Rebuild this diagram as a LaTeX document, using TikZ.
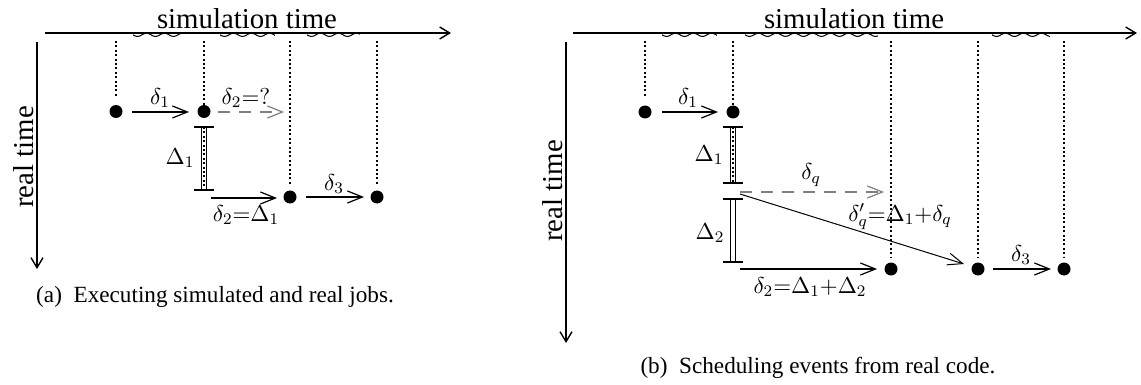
\documentclass[tikz,border=0pt]{standalone}
\usepackage{fix-cm}
\usepackage[no-math]{fontspec}
\setmainfont{Liberation Serif}
\usetikzlibrary{arrows.meta}
\tikzset{
  timeaxis/.style={line width=1.1pt,-{Straight Barb[length=5pt,width=6pt,line width=0.7pt]}},
  evdot/.style={circle,fill,inner sep=0pt,minimum size=6.5pt},
  guide/.style={line width=1pt,dash pattern=on 1pt off 1.2pt},
  jump/.style={line width=1pt,-{Straight Barb[length=7.5pt,width=6pt,line width=0.6pt]}},
  pending/.style={jump,gray,dash pattern=on 6pt off 4.5pt},
  thinjump/.style={line width=0.5pt,-{Straight Barb[length=7.5pt,width=6pt,line width=0.5pt]}},
  wavy/.style={line width=0.5pt},
  durbar/.style={line width=0.7pt,double distance=2pt},
  barend/.style={line width=0.8pt},
  lbl/.style={font=\fontsize{11.5}{13}\selectfont,inner sep=0pt},
  axtitle/.style={font=\fontsize{14.4}{17}\selectfont,inner sep=0pt},
  capt/.style={font=\fontsize{11.6}{14}\selectfont,inner sep=0pt},
}
\begin{document}
\begin{tikzpicture}[x=0.5pt,y=-0.5pt]
\path[use as bounding box,fill=white] (0,0) rectangle (1141,385);

% ================= LEFT PANEL =================
\coordinate (LaxA) at (45,33);   \coordinate (LaxB) at (451,33);
\coordinate (LvA) at (37,42);    \coordinate (LvB) at (37,269);
\draw[timeaxis] (LaxA) -- (LaxB);
\draw[timeaxis,line width=1.3pt] (LvA) -- (LvB);
\node[axtitle] (Ltitle) at (247,18.5) {simulation time};
\node[axtitle,rotate=90] (Lreal) at (24,157) {real time};

% waves on the simulation axis (projections of the jumps)
\foreach \s/\e in {133/183,220/275,307/360}
  \draw[wavy] plot[domain=\s:\e,samples=60,smooth] (\x,{34.8+1.6*sin((\x-\s)*20)});

% events
\node[evdot] (a1) at (116,111.5) {};
\node[evdot] (a2) at (204,111.5) {};
\node[evdot] (a3) at (290,197) {};
\node[evdot] (a4) at (377,197) {};

% guides
\coordinate (Lg1t) at (116,41); \coordinate (Lg1b) at (116,98);
\coordinate (Lg2t) at (204,41);
\coordinate (Lg3t) at (290,41); \coordinate (Lg3b) at (290,184);
\coordinate (Lg4t) at (377,41); \coordinate (Lg4b) at (377,184);
\draw[guide] (Lg1t) -- (Lg1b);
\draw[guide] (Lg2t) -- (a2.center);
\draw[guide] (Lg3t) -- (Lg3b);
\draw[guide] (Lg4t) -- (Lg4b);

% Delta_1 bar
\coordinate (LD1t) at (204,127); \coordinate (LD1b) at (204,190);
\draw[durbar] (LD1t) -- (LD1b);
\draw[guide] (LD1t) -- (LD1b);
\draw[barend] ([xshift=-5pt]LD1t) -- ([xshift=5pt]LD1t);
\draw[barend] ([xshift=-5pt]LD1b) -- ([xshift=5pt]LD1b);
\node[lbl] (LD1l) at (180,158) {$\Delta_1$};

% arrows
\coordinate (Ld1s) at (132,112); \coordinate (Ld1e) at (189,112);
\draw[jump] (Ld1s) -- (Ld1e);
\node[lbl] (Ld1l) at (160,98) {$\delta_1$};
\coordinate (Lqs) at (218,112); \coordinate (Lqe) at (284,112);
\draw[pending] (Lqs) -- (Lqe);
\node[lbl] (Lql) at (246,98) {$\delta_2{=}?$};
\coordinate (Ld2s) at (211,198); \coordinate (Ld2e) at (277,198);
\draw[jump] (Ld2s) -- (Ld2e);
\node[lbl] (Ld2l) at (246,215) {$\delta_2{=}\Delta_1$};
\coordinate (Ld3s) at (306,197); \coordinate (Ld3e) at (364,197);
\draw[jump] (Ld3s) -- (Ld3e);
\node[lbl] (Ld3l) at (334,184) {$\delta_3$};

\node[capt] (Lcap) at (215,297) {(a)\enspace Executing simulated and real jobs.};

% ================= RIGHT PANEL =================
\coordinate (RaxA) at (573,33);  \coordinate (RaxB) at (1137,33);
\coordinate (RvA) at (566,42);   \coordinate (RvB) at (566,343);
\draw[timeaxis] (RaxA) -- (RaxB);
\draw[timeaxis,line width=1.3pt] (RvA) -- (RvB);
\node[axtitle] (Rtitle) at (854,18.5) {simulation time};
\node[axtitle,rotate=90] (Rreal) at (553,191) {real time};

\foreach \s/\e in {662/717,745/878,992/1050}
  \draw[wavy] plot[domain=\s:\e,samples=80,smooth] (\x,{34.8+1.6*sin((\x-\s)*20)});

\node[evdot] (b1) at (645,112) {};
\node[evdot] (b2) at (733,112) {};
\node[evdot] (b3) at (891,269) {};
\node[evdot] (b4) at (978,269) {};
\node[evdot] (b5) at (1064,269) {};

\coordinate (Rg1t) at (645,41); \coordinate (Rg1b) at (645,98);
\coordinate (Rg2t) at (733,41);
\coordinate (Rg3t) at (891,41); \coordinate (Rg3b) at (891,257);
\coordinate (Rg4t) at (978,41); \coordinate (Rg4b) at (978,257);
\coordinate (Rg5t) at (1064,41); \coordinate (Rg5b) at (1064,257);
\draw[guide] (Rg1t) -- (Rg1b);
\draw[guide] (Rg2t) -- (b2.center);
\draw[guide] (Rg3t) -- (Rg3b);
\draw[guide] (Rg4t) -- (Rg4b);
\draw[guide] (Rg5t) -- (Rg5b);

% Delta_1 bar
\coordinate (RD1t) at (733,127); \coordinate (RD1b) at (733,183);
\draw[durbar] (RD1t) -- (RD1b);
\draw[guide] (RD1t) -- (RD1b);
\draw[barend] ([xshift=-5pt]RD1t) -- ([xshift=5pt]RD1t);
\draw[barend] ([xshift=-5pt]RD1b) -- ([xshift=5pt]RD1b);
\node[lbl] (RD1l) at (709,155) {$\Delta_1$};

% Delta_2 bar
\coordinate (RD2t) at (733,199); \coordinate (RD2b) at (733,262);
\draw[durbar] (RD2t) -- (RD2b);
\draw[barend] ([xshift=-5pt]RD2t) -- ([xshift=5pt]RD2t);
\draw[barend] ([xshift=-5pt]RD2b) -- ([xshift=5pt]RD2b);
\node[lbl] (RD2l) at (710,233) {$\Delta_2$};

% arrows
\coordinate (Rd1s) at (662,112); \coordinate (Rd1e) at (718,112);
\draw[jump] (Rd1s) -- (Rd1e);
\node[lbl] (Rd1l) at (688,98) {$\delta_1$};
\coordinate (Rqs) at (740,192); \coordinate (Rqe) at (884,192);
\draw[pending] (Rqs) -- (Rqe);
\node[lbl] (Rql) at (811,175) {$\delta_q$};
\coordinate (Rps) at (740,194); \coordinate (Rpe) at (964,264);
\draw[thinjump] (Rps) -- (Rpe);
\node[lbl] (Rpl) at (900,217) {$\delta'_q{=}\Delta_1{+}\delta_q$};
\coordinate (Rd2s) at (740,269); \coordinate (Rd2e) at (877,269);
\draw[jump] (Rd2s) -- (Rd2e);
\node[lbl] (Rd2l) at (810,287) {$\delta_2{=}\Delta_1{+}\Delta_2$};
\coordinate (Rd3s) at (993,269); \coordinate (Rd3e) at (1051,269);
\draw[jump] (Rd3s) -- (Rd3e);
\node[lbl] (Rd3l) at (1021,255) {$\delta_3$};

\node[capt] (Rcap) at (818,368) {(b)\enspace Scheduling events from real code.};
\end{tikzpicture}
\end{document}
